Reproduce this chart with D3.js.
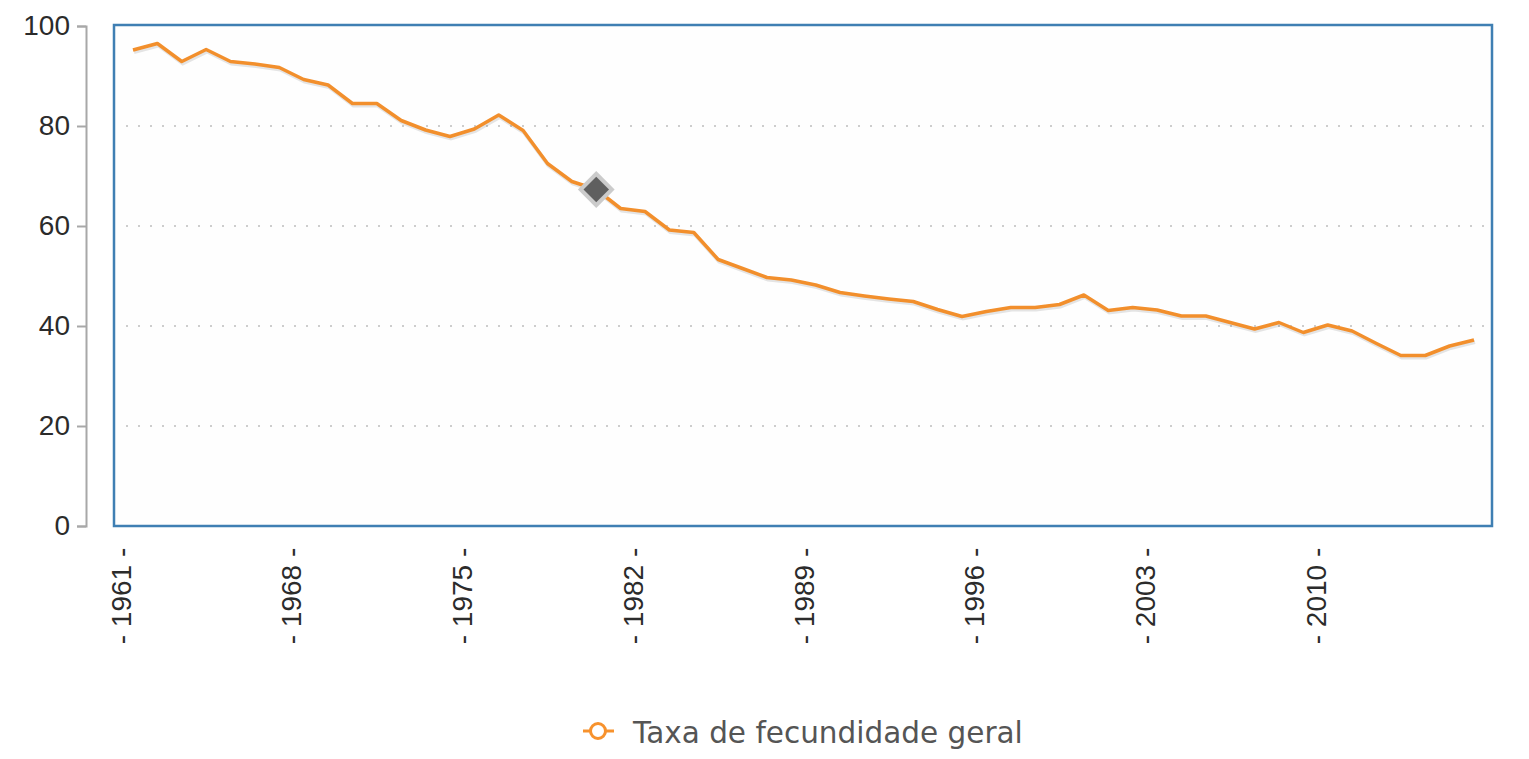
<!DOCTYPE html>
<html>
<head>
<meta charset="utf-8">
<script src="https://cdn.jsdelivr.net/npm/d3@7"></script>
<style>
  body { margin: 0; background: #fff; }
  svg { display: block; }
</style>
</head>
<body>
<script>
var width = 1529,
  height = 759;

// data
var anos = d3.range(1961, 2017);
var taxa = [
  95.2, 96.5, 92.9, 95.3, 92.9, 92.4, 91.7, 89.3, 88.2, 84.5,
  84.5, 81.1, 79.2, 77.9, 79.4, 82.2, 79.1, 72.5, 68.9, 67.3,
  63.5, 62.9, 59.2, 58.7, 53.3, 51.5, 49.7, 49.2, 48.2, 46.7,
  46.0, 45.4, 44.9, 43.3, 41.9, 42.9, 43.7, 43.7, 44.3, 46.2,
  43.1, 43.7, 43.2, 42.0, 42.0, 40.7, 39.4, 40.7, 38.7, 40.2,
  39.0, 36.5, 34.1, 34.1, 36.0, 37.2
];
var anosRotulo = [1961, 1968, 1975, 1982, 1989, 1996, 2003, 2010];
var yTicks = [0, 20, 40, 60, 80, 100];
var destaque = 1980;
var serieNome = "Taxa de fecundidade geral";

var data = anos.map(function (a, i) {
  return { ano: a, valor: taxa[i] };
});

var svg = d3
  .select("body")
  .append("svg")
  .attr("width", width)
  .attr("height", height)
  .style("background", "#fff");

var x = d3.scaleLinear().domain([1961, 2016]).range([133, 1474]);
var y = d3.scaleLinear().domain([0, 100]).range([526, 26]);

// plot frame
svg.append("rect")
  .attr("x", 114)
  .attr("y", 25)
  .attr("width", 1378)
  .attr("height", 501)
  .attr("fill", "#fefefe")
  .attr("stroke", "#3f7fb3")
  .attr("stroke-width", 2.5);

// dotted grid
svg.append("g")
  .selectAll("line")
  .data(yTicks.filter(function (t) { return t > 0 && t < 100; }))
  .enter()
  .append("line")
  .attr("x1", 126)
  .attr("x2", 1484)
  .attr("y1", function (d) { return y(d); })
  .attr("y2", function (d) { return y(d); })
  .attr("stroke", "#cdcdcd")
  .attr("stroke-width", 2)
  .attr("stroke-dasharray", "2,10");

// y axis
var yAxis = svg.append("g")
  .attr("transform", "translate(86,0)")
  .call(d3.axisLeft(y).tickValues(yTicks).tickSize(9).tickPadding(7));
yAxis.select(".domain").attr("stroke", "#a8a8a8").attr("stroke-width", 2);
yAxis.selectAll(".tick line").attr("stroke", "#a8a8a8").attr("stroke-width", 2);
yAxis.selectAll(".tick text")
  .attr("fill", "#2b2b2b")
  .style("font-family", "'Liberation Sans', Arial, sans-serif")
  .style("font-size", "28px");

// x labels, rotated
svg.append("g")
  .selectAll("text")
  .data(anosRotulo)
  .enter()
  .append("text")
  .attr("transform", function (d) {
    return "translate(" + (x(d) - 12) + ",596) rotate(-90)";
  })
  .attr("text-anchor", "middle")
  .attr("dy", "0.35em")
  .attr("fill", "#2b2b2b")
  .style("font-family", "'Liberation Sans', Arial, sans-serif")
  .style("font-size", "28px")
  .text(function (d) { return "- " + d + " -"; });

// line with a soft shadow
var linha = d3.line()
  .x(function (d) { return x(d.ano); })
  .y(function (d) { return y(d.valor); });

svg.append("path")
  .datum(data)
  .attr("d", linha)
  .attr("transform", "translate(1,2)")
  .attr("fill", "none")
  .attr("stroke", "#000")
  .attr("stroke-opacity", 0.1)
  .attr("stroke-width", 4);

svg.append("path")
  .datum(data)
  .attr("d", linha)
  .attr("fill", "none")
  .attr("stroke", "#f28f2c")
  .attr("stroke-width", 3.5)
  .attr("stroke-linejoin", "round");

// highlighted point
var ponto = data.filter(function (d) { return d.ano === destaque; })[0];
var marca = svg.append("g")
  .attr("transform", "translate(" + x(ponto.ano) + "," + y(ponto.valor) + ") rotate(45)");
marca.append("rect")
  .attr("x", -13).attr("y", -13)
  .attr("width", 26).attr("height", 26)
  .attr("fill", "#cbcbcb");
marca.append("rect")
  .attr("x", -9).attr("y", -9)
  .attr("width", 18).attr("height", 18)
  .attr("fill", "#5f5f5f");

// legend
var legenda = svg.append("g").attr("transform", "translate(598,731)");
legenda.append("line")
  .attr("x1", -15).attr("x2", 16)
  .attr("stroke", "#f7922d")
  .attr("stroke-width", 3);
legenda.append("circle")
  .attr("r", 7.5)
  .attr("fill", "#fff")
  .attr("stroke", "#f7922d")
  .attr("stroke-width", 3);
legenda.append("text")
  .attr("x", 35)
  .attr("y", 12)
  .attr("fill", "#555")
  .style("font-family", "'DejaVu Sans', Verdana, sans-serif")
  .style("font-size", "29.5px")
  .text(serieNome);
</script>
</body>
</html>
